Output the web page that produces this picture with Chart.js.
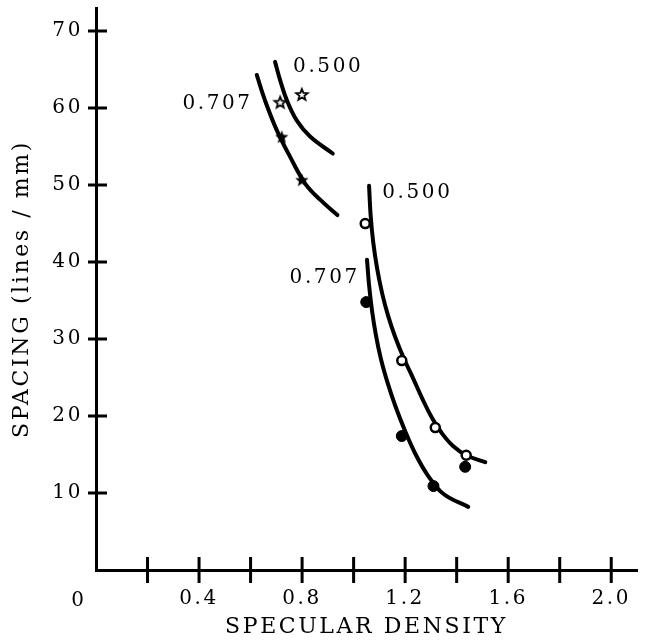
<!DOCTYPE html>
<html>
<head>
<meta charset="utf-8">
<script src="https://cdn.jsdelivr.net/npm/chart.js@4.4.1/dist/chart.umd.min.js"></script>
<style>
    html, body { margin: 0; padding: 0; background: #fff; }
    #wrap { width: 647px; height: 641px; }
</style>
</head>
<body>
<div id="wrap"><canvas id="chart" width="647" height="641"></canvas></div>
<script>
// 数据
const xTickValues = [0.2, 0.4, 0.6, 0.8, 1.0, 1.2, 1.4, 1.6, 1.8, 2.0];
const xLabelValues = [0.4, 0.8, 1.2, 1.6, 2.0];
const yTickValues = [10, 20, 30, 40, 50, 60, 70];

// fitted curves
const curve500LeftX = [0.695, 0.715, 0.741, 0.779, 0.831, 0.919];
const curve500LeftY = [66.0, 63.6, 61.0, 58.4, 56.3, 54.1];
const curve707LeftX = [0.624, 0.656, 0.702, 0.753, 0.812, 0.870, 0.937];
const curve707LeftY = [64.3, 61.0, 57.1, 53.7, 50.2, 48.1, 46.1];
const curve500RightX = [1.060, 1.066, 1.076, 1.091, 1.111, 1.134, 1.161, 1.196, 1.231, 1.266, 1.305, 1.344, 1.386, 1.437, 1.511];
const curve500RightY = [49.9, 46.1, 42.6, 39.2, 35.9, 33.0, 30.3, 27.4, 24.9, 22.3, 19.7, 17.7, 16.1, 14.9, 14.0];
const curve707RightX = [1.052, 1.060, 1.071, 1.086, 1.106, 1.132, 1.163, 1.198, 1.238, 1.286, 1.348, 1.445];
const curve707RightY = [40.3, 37.0, 33.8, 30.6, 27.4, 24.3, 21.2, 18.2, 15.2, 12.4, 9.9, 8.2];

// measured points
const openStarX = [0.715, 0.799];
const openStarY = [60.7, 61.7];
const filledStarX = [0.721, 0.799];
const filledStarY = [56.2, 50.6];
const openCircleX = [1.045, 1.187, 1.317, 1.437];
const openCircleY = [45.0, 27.2, 18.5, 14.9];
const filledCircleX = [1.049, 1.187, 1.310, 1.433];
const filledCircleY = [34.8, 17.4, 10.9, 13.4];

// curve labels (text, data coordinates, alignment)
const curveLabelText = ['0.500', '0.707', '0.500', '0.707'];
const curveLabelX = [0.765, 0.598, 1.111, 1.014];
const curveLabelY = [65.3, 60.6, 49.0, 37.9];
const curveLabelAlign = ['left', 'right', 'left', 'right'];

const FONT = 'DejaVu Serif';
const SPACING = 2.6;

function toPoints(xs, ys) {
    return xs.map((x, i) => ({ x: x, y: ys[i] }));
}

// 五角星 marker
function makeStar(filled) {
    const c = document.createElement('canvas');
    c.width = 18; c.height = 18;
    const g = c.getContext('2d');
    const R = filled ? 7 : 6, r = filled ? 3 : 2.6;
    g.beginPath();
    for (let i = 0; i < 10; i++) {
        const rad = i % 2 === 0 ? R : r;
        const a = -Math.PI / 2 + i * Math.PI / 5;
        const px = 9 + rad * Math.cos(a), py = 9 + rad * Math.sin(a);
        if (i === 0) g.moveTo(px, py); else g.lineTo(px, py);
    }
    g.closePath();
    if (filled) {
        g.fillStyle = '#000';
        g.fill();
    } else {
        g.fillStyle = '#fff';
        g.fill();
        g.lineWidth = 1.8;
        g.strokeStyle = '#000';
        g.stroke();
    }
    return c;
}

function curveDataset(xs, ys) {
    return {
        data: toPoints(xs, ys),
        showLine: true,
        borderColor: '#000',
        borderWidth: 4,
        borderCapStyle: 'round',
        pointRadius: 0,
        tension: 0.4,
        fill: false,
        order: 2
    };
}

function setSpacing(ctx) {
    if ('letterSpacing' in ctx) ctx.letterSpacing = SPACING + 'px';
}

function noPadding(scale) {
    scale.paddingTop = 0;
    scale.paddingBottom = 0;
    scale.paddingLeft = 0;
    scale.paddingRight = 0;
}

// crossing tick marks, "0" label and curve labels
const decorPlugin = {
    id: 'decor',
    beforeUpdate(chart) { setSpacing(chart.ctx); },
    beforeDraw(chart) { setSpacing(chart.ctx); },
    afterDraw(chart) {
        const ctx = chart.ctx;
        const xs = chart.scales.x, ys = chart.scales.y;
        const axisY = ys.getPixelForValue(0);
        const axisX = xs.getPixelForValue(0);
        ctx.save();
        ctx.strokeStyle = '#000';
        ctx.lineWidth = 3;
        ctx.beginPath();
        xTickValues.forEach(v => {
            const px = xs.getPixelForValue(v);
            ctx.moveTo(px, axisY - 13);
            ctx.lineTo(px, axisY + 13);
        });
        yTickValues.forEach(v => {
            const py = ys.getPixelForValue(v);
            ctx.moveTo(axisX - 8, py);
            ctx.lineTo(axisX + 11, py);
        });
        ctx.stroke();

        setSpacing(ctx);
        ctx.fillStyle = '#000';
        ctx.font = '20px "' + FONT + '"';
        ctx.textBaseline = 'middle';
        ctx.textAlign = 'center';
        ctx.fillText('0', axisX - 17, axisY + 31);

        curveLabelText.forEach((t, i) => {
            ctx.textAlign = curveLabelAlign[i];
            let px = xs.getPixelForValue(curveLabelX[i]);
            if (curveLabelAlign[i] === 'right') px += SPACING;
            ctx.fillText(t, px, ys.getPixelForValue(curveLabelY[i]));
        });
        ctx.restore();
    }
};

document.addEventListener('DOMContentLoaded', function() {
    const ctx = document.getElementById('chart');
    new Chart(ctx, {
        type: 'scatter',
        data: {
            datasets: [
                curveDataset(curve500LeftX, curve500LeftY),
                curveDataset(curve707LeftX, curve707LeftY),
                curveDataset(curve500RightX, curve500RightY),
                curveDataset(curve707RightX, curve707RightY),
                {
                    data: toPoints(openStarX, openStarY),
                    pointStyle: makeStar(false),
                    order: 1
                },
                {
                    data: toPoints(filledStarX, filledStarY),
                    pointStyle: makeStar(true),
                    order: 1
                },
                {
                    data: toPoints(openCircleX, openCircleY),
                    pointStyle: 'circle',
                    pointRadius: 4.5,
                    borderWidth: 2.5,
                    borderColor: '#000',
                    backgroundColor: '#fff',
                    order: 1
                },
                {
                    data: toPoints(filledCircleX, filledCircleY),
                    pointStyle: 'circle',
                    pointRadius: 5.5,
                    borderWidth: 1,
                    borderColor: '#000',
                    backgroundColor: '#000',
                    order: 1
                }
            ]
        },
        options: {
            responsive: false,
            animation: false,
            layout: {
                padding: { top: 8, right: 10, bottom: 0, left: 0 }
            },
            plugins: {
                legend: { display: false },
                tooltip: { enabled: false }
            },
            scales: {
                x: {
                    type: 'linear',
                    min: 0,
                    max: 2.1,
                    grid: { display: false, drawTicks: false },
                    border: { display: true, color: '#000', width: 3 },
                    afterBuildTicks: function(scale) {
                        scale.ticks = xTickValues.map(v => ({ value: v }));
                    },
                    afterFit: function(scale) {
                        scale.height = 71;
                        noPadding(scale);
                    },
                    ticks: {
                        color: '#000',
                        padding: 17,
                        maxRotation: 0,
                        autoSkip: false,
                        font: { family: FONT, size: 20 },
                        callback: function(value) {
                            const hit = xLabelValues.some(v => Math.abs(v - value) < 1e-6);
                            return hit ? value.toFixed(1) : '';
                        }
                    },
                    title: {
                        display: true,
                        text: 'SPECULAR DENSITY',
                        color: '#000',
                        font: { family: FONT, size: 22 },
                        padding: { top: 0, bottom: 1 }
                    }
                },
                y: {
                    type: 'linear',
                    min: 0,
                    max: 73,
                    grid: { display: false, drawTicks: false },
                    border: { display: true, color: '#000', width: 3 },
                    afterBuildTicks: function(scale) {
                        scale.ticks = yTickValues.map(v => ({ value: v }));
                    },
                    afterFit: function(scale) {
                        scale.width = 96;
                        noPadding(scale);
                    },
                    ticks: {
                        color: '#000',
                        padding: 13,
                        autoSkip: false,
                        font: { family: FONT, size: 20 },
                        callback: function(value) { return String(value); }
                    },
                    title: {
                        display: true,
                        text: 'SPACING (lines / mm)',
                        color: '#000',
                        font: { family: FONT, size: 22 },
                        padding: { top: 9, bottom: 0 }
                    }
                }
            }
        },
        plugins: [decorPlugin]
    });
});
</script>
</body>
</html>
